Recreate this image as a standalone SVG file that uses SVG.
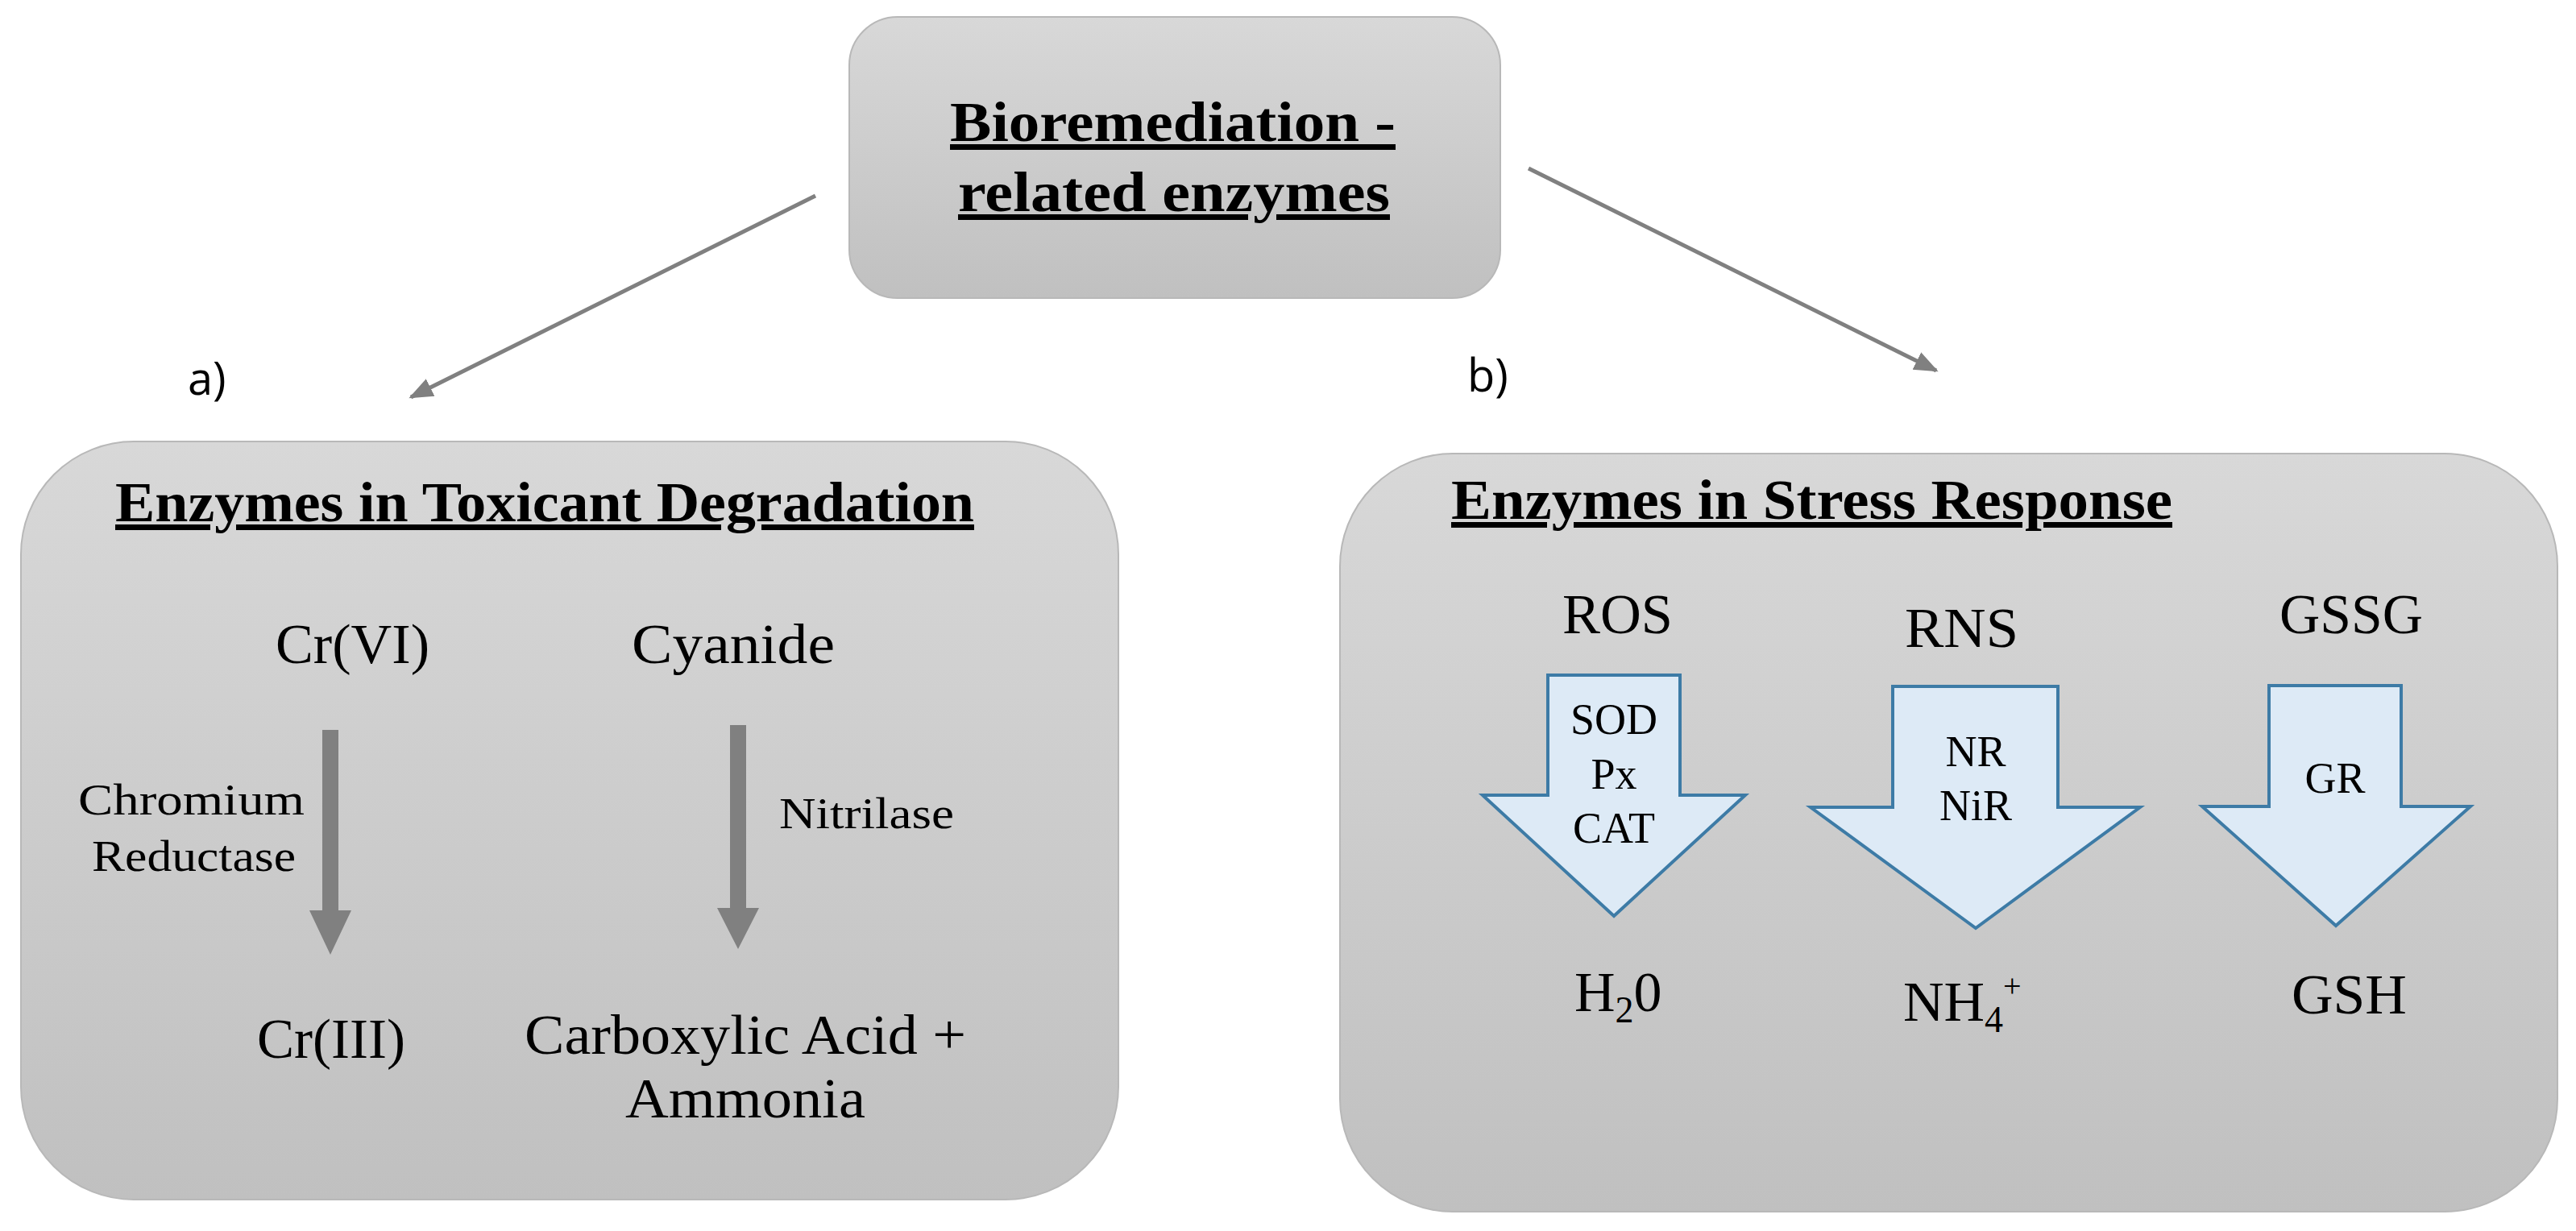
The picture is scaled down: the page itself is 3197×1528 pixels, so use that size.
<svg xmlns="http://www.w3.org/2000/svg" width="3197" height="1528" viewBox="0 0 3197 1528">
<defs>
<linearGradient id="g" x1="0" y1="0" x2="0" y2="1"><stop offset="0" stop-color="#d8d8d8"/><stop offset="1" stop-color="#c0c0c0"/></linearGradient>
<marker id="ah" viewBox="0 0 10 10" refX="9" refY="5" markerWidth="6" markerHeight="6" orient="auto"><path d="M0,1 L10,5 L0,9 z" fill="#808080"/></marker>
<style>
.box{fill:url(#g);stroke:#b8b8b8;stroke-width:2}
.t{font-family:"Liberation Serif",serif;fill:#000}
.big{font-size:70px}
.mid{font-size:54px}
.ttl{font-size:70px;font-weight:bold;text-decoration:underline}
.lbl{font-family:"Open Sans","Liberation Sans",sans-serif;font-size:56px;fill:#000}
.bl{fill:#ddeaf6;stroke:#3d7ba6;stroke-width:4}
.con{stroke:#808080;stroke-width:5;fill:none}
</style>
</defs>
<g id="top">
<rect class="box" x="1054" y="21" width="808" height="349" rx="60"/>
<text class="t ttl" x="1179" y="175" textLength="553" lengthAdjust="spacingAndGlyphs">Bioremediation -</text>
<text class="t ttl" x="1189" y="262" textLength="536" lengthAdjust="spacingAndGlyphs">related enzymes</text>
</g>
<g id="connectors">
<line class="con" x1="1012" y1="243" x2="510" y2="493" marker-end="url(#ah)"/>
<line class="con" x1="1897" y1="209" x2="2403" y2="460" marker-end="url(#ah)"/>
</g>
<text class="lbl" x="233" y="490">a)</text>
<text class="lbl" x="1821" y="486">b)</text>
<g id="panelA">
<rect class="box" x="26" y="548" width="1362" height="941" rx="140"/>
<text class="t ttl" x="143" y="647" textLength="1066" lengthAdjust="spacingAndGlyphs">Enzymes in Toxicant Degradation</text>
<text class="t big" x="342" y="823" textLength="191" lengthAdjust="spacingAndGlyphs">Cr(VI)</text>
<text class="t big" x="784" y="823" textLength="252" lengthAdjust="spacingAndGlyphs">Cyanide</text>
<path d="M400,906 h20 v224 h16 l-26,55 l-26,-55 h16 z" fill="#808080"/>
<path d="M906,900 h20 v227 h16 l-26,51 l-26,-51 h16 z" fill="#808080"/>
<text class="t mid" x="97" y="1011" textLength="281" lengthAdjust="spacingAndGlyphs">Chromium</text>
<text class="t mid" x="114" y="1081" textLength="253" lengthAdjust="spacingAndGlyphs">Reductase</text>
<text class="t mid" x="967" y="1028" textLength="217" lengthAdjust="spacingAndGlyphs">Nitrilase</text>
<text class="t big" x="319" y="1313" textLength="184" lengthAdjust="spacingAndGlyphs">Cr(III)</text>
<text class="t big" x="651" y="1308" textLength="548" lengthAdjust="spacingAndGlyphs">Carboxylic Acid +</text>
<text class="t big" x="776" y="1387" textLength="298" lengthAdjust="spacingAndGlyphs">Ammonia</text>
</g>
<g id="panelB">
<rect class="box" x="1663" y="563" width="1511" height="941" rx="140"/>
<text class="t ttl" x="1801" y="644" textLength="895" lengthAdjust="spacingAndGlyphs">Enzymes in Stress Response</text>
<text class="t big" x="1939" y="786" textLength="137" lengthAdjust="spacingAndGlyphs">ROS</text>
<text class="t big" x="2364" y="803" textLength="141" lengthAdjust="spacingAndGlyphs">RNS</text>
<text class="t big" x="2829" y="786" textLength="178" lengthAdjust="spacingAndGlyphs">GSSG</text>
<path class="bl" d="M1921,838 H2085 V987 H2166 L2003,1137 L1840,987 H1921 Z"/>
<path class="bl" d="M2349,852 H2554 V1002 H2656 L2452,1152 L2247,1002 H2349 Z"/>
<path class="bl" d="M2816,851 H2980 V1001 H3066 L2899,1149 L2733,1001 H2816 Z"/>
<g class="t mid" text-anchor="middle">
<text x="2003" y="911">SOD</text>
<text x="2003" y="979">Px</text>
<text x="2003" y="1046">CAT</text>
<text x="2452" y="951">NR</text>
<text x="2452" y="1018">NiR</text>
<text x="2898" y="984">GR</text>
</g>
<text class="t big" x="1954" y="1255">H<tspan font-size="46" dy="14">2</tspan><tspan dy="-14">0</tspan></text>
<text class="t big" x="2362" y="1267">NH<tspan font-size="46" dy="14">4</tspan><tspan font-size="40" dy="-44">+</tspan></text>
<text class="t big" x="2844" y="1258" textLength="143" lengthAdjust="spacingAndGlyphs">GSH</text>
</g>
</svg>
